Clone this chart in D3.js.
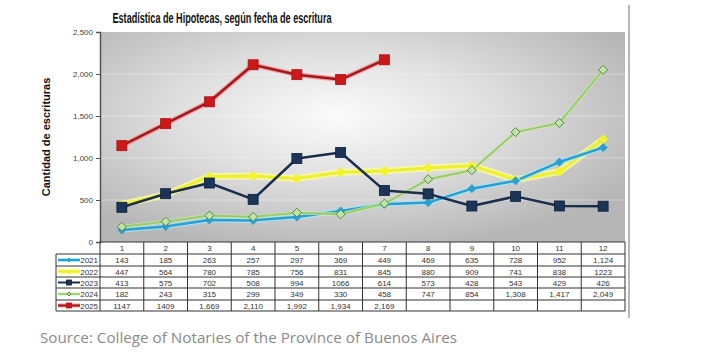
<!DOCTYPE html>
<html><head><meta charset="utf-8">
<script src="https://cdn.jsdelivr.net/npm/d3@7"></script>
<style>body{margin:0;background:#fff}svg{display:block}</style>
</head><body>
<script>
const months = ["1","2","3","4","5","6","7","8","9","10","11","12"];
const yearNames = ["2021","2022","2023","2024","2025"];
const v2021 = [143,185,263,257,297,369,449,469,635,728,952,1124];
const v2022 = [447,564,780,785,756,831,845,880,909,741,838,1223];
const v2023 = [413,575,702,508,994,1066,614,573,428,543,429,426];
const v2024 = [182,243,315,299,349,330,458,747,854,1308,1417,2049];
const v2025 = [1147,1409,1669,2110,1992,1934,2169];
const tableText = [
 ["143","185","263","257","297","369","449","469","635","728","952","1,124"],
 ["447","564","780","785","756","831","845","880","909","741","838","1223"],
 ["413","575","702","508","994","1066","614","573","428","543","429","426"],
 ["182","243","315","299","349","330","458","747","854","1,308","1,417","2,049"],
 ["1147","1409","1,669","2,110","1,992","1,934","2,169","","","","",""]
];
const yTicks = [0,500,1000,1500,2000,2500];
const title = "Estadística de Hipotecas, según fecha de escritura";
const yLabel = "Cantidad de escrituras";
const source = "Source: College of Notaries of the Province of Buenos Aires";

const styles = [
 {line:"#2a9fd0", glow:"#a6e6f6", lw:2.5, gw:5, marker:"diamond", ms:4, fill:"#2a9fd0", stroke:"#2a9fd0"},
 {line:"#eeee30", glow:"#fbfb9a", lw:3, gw:7, marker:"diamond", ms:4.5, fill:"#f2f230", stroke:"#f2f230"},
 {line:"#1a2f4e", glow:null, lw:2.5, gw:0, marker:"square", ms:5, fill:"#1b3558", stroke:"#0f2038"},
 {line:"#9acb68", glow:"#cde8b4", lw:2, gw:3.5, marker:"diamond", ms:4.5, fill:"#c4e2a6", stroke:"#4e8a48"},
 {line:"#a3181c", glow:"#f29090", lw:2.5, gw:5, marker:"square", ms:5, fill:"#cc1818", stroke:"#b01010"}
];
const series = [v2021,v2022,v2023,v2024,v2025];

const W=726,H=361;
const svg = d3.select("body").append("svg").attr("width",W).attr("height",H);
const defs = svg.append("defs");
const rg = defs.append("radialGradient").attr("id","bg").attr("cx","0.45").attr("cy","0.4").attr("r","0.65");
rg.append("stop").attr("offset","0").attr("stop-color","#fbfbfb");
rg.append("stop").attr("offset","0.45").attr("stop-color","#e0e0e0");
rg.append("stop").attr("offset","1").attr("stop-color","#b6b6b6");

const x = d3.scaleBand().domain(months).range([100,625]);
const y = d3.scaleLinear().domain([0,2500]).range([242,32]);

svg.append("rect").attr("x",100).attr("y",y(2500)).attr("width",525).attr("height",y(0)-y(2500)).attr("fill","url(#bg)");
svg.append("g").selectAll("line").data(yTicks.slice(1,5)).join("line")
 .attr("x1",100).attr("x2",625).attr("y1",d=>y(d)).attr("y2",d=>y(d))
 .attr("stroke","#ffffff").attr("stroke-opacity",0.35).attr("stroke-width",1);

const ya = svg.append("g").attr("transform","translate(100,0)")
 .call(d3.axisLeft(y).tickValues(yTicks).tickFormat(d3.format(",")).tickSize(4).tickPadding(3));
ya.select(".domain").attr("stroke","#555").attr("stroke-width",1.5);
ya.selectAll(".tick line").attr("stroke","#555");
ya.selectAll("text").attr("font-family","'Liberation Sans Narrow','Arial Narrow',sans-serif").attr("font-size",8).attr("fill","#444");

svg.append("text").attr("transform","translate(50,137) rotate(-90)").attr("text-anchor","middle")
 .attr("font-family","'Liberation Sans',Arial,sans-serif").attr("font-weight","bold").attr("font-size",11).attr("fill","#111").text(yLabel);

svg.append("text").attr("x",222).attr("y",23).attr("text-anchor","middle")
 .attr("font-family","'Liberation Sans Narrow','Arial Narrow',sans-serif").attr("font-weight","bold").attr("font-size",14).attr("fill","#111")
 .attr("textLength",219).attr("lengthAdjust","spacingAndGlyphs").text(title);

const cx = i => x(months[i]) + x.bandwidth()/2;
const lineGen = d3.line().x((d,i)=>cx(i)).y(d=>y(d));
const order = [1,0,3,2,4];
order.forEach(k=>{
 const s = styles[k], data = series[k];
 if(s.glow) svg.append("path").attr("d",lineGen(data)).attr("fill","none").attr("stroke",s.glow).attr("stroke-width",s.gw).attr("stroke-linejoin","round").attr("stroke-opacity",0.8);
 svg.append("path").attr("d",lineGen(data)).attr("fill","none").attr("stroke",s.line).attr("stroke-width",s.lw).attr("stroke-linejoin","round");
});
function marker(g, type, px, py, sz, fill, stroke){
 if(type==="square"){
  g.append("rect").attr("x",px-sz).attr("y",py-sz).attr("width",sz*2).attr("height",sz*2).attr("fill",fill).attr("stroke",stroke).attr("stroke-width",0.8);
 } else {
  g.append("path").attr("d",`M${px},${py-sz}L${px+sz},${py}L${px},${py+sz}L${px-sz},${py}Z`).attr("fill",fill).attr("stroke",stroke).attr("stroke-width",1);
 }
}
order.forEach(k=>{
 const s = styles[k], g = svg.append("g");
 series[k].forEach((d,i)=>marker(g,s.marker,cx(i),y(d),s.ms,s.fill,s.stroke));
});

const rowTops = [254,266,277,288,300,311];
const tg = svg.append("g").attr("font-family","'Liberation Sans Narrow','Arial Narrow',sans-serif").attr("font-size",8).attr("fill","#333");
const gridC = "#333";
tg.append("line").attr("x1",100).attr("x2",625).attr("y1",242).attr("y2",242).attr("stroke",gridC);
months.forEach((m,i)=>{
 tg.append("text").attr("x",cx(i)).attr("y",251).attr("text-anchor","middle").text(m);
});
rowTops.forEach(t=>tg.append("line").attr("x1",56).attr("x2",625).attr("y1",t).attr("y2",t).attr("stroke",gridC).attr("stroke-width",1));
const vx = [100].concat(months.map(m=>x(m)+x.bandwidth()));
vx.forEach(v=>tg.append("line").attr("x1",v).attr("x2",v).attr("y1",242).attr("y2",311).attr("stroke",gridC));
tg.append("line").attr("x1",56).attr("x2",56).attr("y1",254).attr("y2",311).attr("stroke",gridC);
tableText.forEach((row,r)=>{
 const mid = (rowTops[r]+rowTops[r+1])/2;
 row.forEach((t,i)=>{
  tg.append("text").attr("x",cx(i)).attr("y",mid+3).attr("text-anchor","middle").text(t);
 });
 const s = styles[r];
 if(s.glow) tg.append("line").attr("x1",58).attr("x2",80).attr("y1",mid).attr("y2",mid).attr("stroke",s.glow).attr("stroke-width",s.gw*0.8);
 tg.append("line").attr("x1",58).attr("x2",80).attr("y1",mid).attr("y2",mid).attr("stroke",s.line).attr("stroke-width",s.lw*0.8);
 marker(tg,s.marker,69,mid,s.marker==="square"?2.5:2,s.fill,s.stroke);
 tg.append("text").attr("x",98).attr("y",mid+3).attr("text-anchor","end").text(yearNames[r]);
});

svg.append("line").attr("x1",629).attr("x2",629).attr("y1",5).attr("y2",318).attr("stroke","#888").attr("stroke-width",1.2);

svg.append("text").attr("x",40).attr("y",343).attr("font-family","'Open Sans',sans-serif").attr("font-size",14).attr("fill","#8a8a8a")
 .attr("textLength",417).attr("lengthAdjust","spacingAndGlyphs").text(source);
</script>
</body></html>
